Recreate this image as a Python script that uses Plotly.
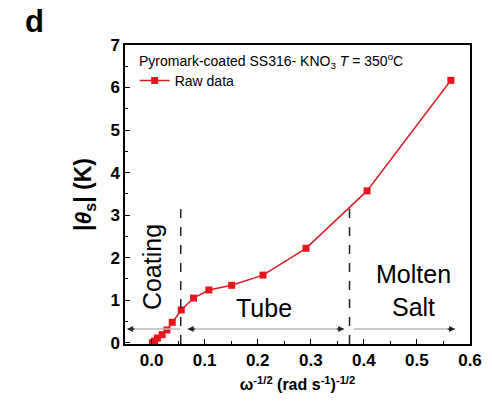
import plotly.graph_objects as go

# Data
omega_inv_sqrt = [0.0015, 0.006, 0.011, 0.020, 0.029, 0.039, 0.056, 0.079,
                  0.108, 0.151, 0.210, 0.291, 0.406, 0.564]
theta_s = [0.0, 0.04, 0.11, 0.19, 0.30, 0.48, 0.77, 1.05,
           1.24, 1.35, 1.59, 2.22, 3.57, 6.17]

# Region boundaries (dashed lines) and their top values
boundary_x = [0.055, 0.373]
boundary_top = [3.24, 3.20]

# Region arrows: (start, end, heads)
arrow_y = 0.32
arrows = [(-0.046, 0.054, "left"), (0.068, 0.363, "both"), (0.381, 0.572, "right")]

region_labels = ["Coating", "Tube", "Molten<br>Salt"]

FONT = "Liberation Sans, Arial, sans-serif"
RED = "#e8141b"

fig = go.Figure()
fig.add_trace(go.Scatter(
    x=omega_inv_sqrt, y=theta_s, mode="lines+markers", name="Raw data",
    line=dict(color="#d81e22", width=1.5),
    marker=dict(symbol="square", size=7, color=RED),
))

shapes = []
for bx, bt in zip(boundary_x, boundary_top):
    shapes.append(dict(type="line", xref="x", yref="y", x0=bx, x1=bx, y0=-0.03, y1=bt,
                       line=dict(color="#222", width=1.5, dash="dash")))
annotations = []
for x0, x1, heads in arrows:
    shapes.append(dict(type="line", xref="x", yref="y", x0=x0, x1=x1, y0=arrow_y, y1=arrow_y,
                       line=dict(color="#b8b8b8", width=1.5)))
    if heads in ("left", "both"):
        annotations.append(dict(x=x0, y=arrow_y, xref="x", yref="y", ax=9, ay=0, text="",
                                showarrow=True, arrowhead=2, arrowsize=1.0, arrowwidth=1.2,
                                arrowcolor="#222"))
    if heads in ("right", "both"):
        annotations.append(dict(x=x1, y=arrow_y, xref="x", yref="y", ax=-9, ay=0, text="",
                                showarrow=True, arrowhead=2, arrowsize=1.0, arrowwidth=1.2,
                                arrowcolor="#222"))

annotations += [
    dict(x=0.001, y=1.78, xref="x", yref="y", text=region_labels[0], textangle=-90,
         showarrow=False, font=dict(family=FONT, size=25, color="black"),
         yanchor="middle", xanchor="center"),
    dict(x=0.212, y=0.82, xref="x", yref="y", text=region_labels[1], showarrow=False,
         font=dict(family=FONT, size=25, color="black")),
    dict(x=0.494, y=1.22, xref="x", yref="y", text=region_labels[2], showarrow=False,
         font=dict(family=FONT, size=25, color="black")),
    dict(x=0.035, y=0.945, xref="paper", yref="paper", xanchor="left", yanchor="middle",
         text="Pyromark-coated SS316- KNO<sub>3</sub> <i>T</i> = 350<sup>o</sup>C",
         showarrow=False, font=dict(family=FONT, size=14, color="black")),
    dict(x=-0.263, y=1.077, xref="paper", yref="paper", xanchor="center", yanchor="middle",
         text="d", showarrow=False,
         font=dict(family=FONT, size=31, color="black", weight="bold")),
]

fig.update_layout(
    width=492, height=405,
    margin=dict(l=125, r=10, t=45, b=61),
    paper_bgcolor="white", plot_bgcolor="white",
    font=dict(family=FONT, color="black"),
    showlegend=True,
    legend=dict(x=0.028, y=0.88, xanchor="left", yanchor="middle",
                bgcolor="rgba(0,0,0,0)", font=dict(family=FONT, size=14, color="black")),
    shapes=shapes, annotations=annotations,
    xaxis=dict(range=[-0.05, 0.6], dtick=0.1, tick0=0, tickformat=".1f",
               showgrid=False, zeroline=False, showline=True, linecolor="black", linewidth=1.5,
               mirror=True, ticks="inside", ticklen=5, tickcolor="black",
               minor=dict(dtick=0.05, ticks="inside", ticklen=3, tickcolor="black"),
               tickfont=dict(family=FONT, size=17, weight="bold"),
               title=dict(text="ω<sup>-1/2</sup> (rad s<sup>-1</sup>)<sup>-1/2</sup>",
                          font=dict(family=FONT, size=16, weight="bold"), standoff=10)),
    yaxis=dict(range=[-0.03, 7], dtick=1, tick0=0,
               showgrid=False, zeroline=False, showline=True, linecolor="black", linewidth=1.5,
               mirror=True, ticks="inside", ticklen=5, tickcolor="black",
               minor=dict(dtick=0.5, ticks="inside", ticklen=3, tickcolor="black"),
               tickfont=dict(family=FONT, size=17, weight="bold"),
               title=dict(text="|<i>θ</i><sub>s</sub>| (K)",
                          font=dict(family=FONT, size=23, weight="bold"), standoff=12)),
)

fig.write_html("out.html")
